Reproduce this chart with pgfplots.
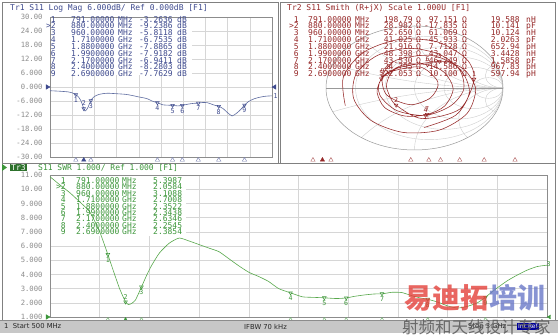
\documentclass[border=0pt]{standalone}
\usepackage{pgfplots}
\pgfplotsset{compat=1.18}
\usepackage{pgfplotstable}
\usepackage{fontspec}
\setmainfont{DejaVu Sans}
\setmonofont{DejaVu Sans Mono}
\newfontfamily\cjk{Noto Sans CJK SC}

\definecolor{cA}{HTML}{3E4A8E}
\definecolor{cAl}{HTML}{5E6CA0}
\definecolor{cB}{HTML}{962828}
\definecolor{cC}{HTML}{3C963A}
\definecolor{cCl}{HTML}{58A84C}
\definecolor{gridc}{HTML}{D6D6D6}
\definecolor{tickc}{HTML}{8C8C8C}
\definecolor{smg}{HTML}{CFCFCF}
\definecolor{wmr}{HTML}{E4403A}
\definecolor{wmb}{HTML}{6A78C8}

\pgfplotstableread{
f swr db mag ph
500 10.88 -1.60 0.832 200.0
550 10.30 -1.69 0.823 167.7
600 9.75 -1.79 0.814 135.4
650 9.10 -1.92 0.802 103.1
700 8.40 -2.08 0.787 70.8
750 7.00 -2.50 0.750 38.5
791 5.40 -3.26 0.687 11.8
820 4.20 -4.22 0.615 -33.4
850 3.00 -6.02 0.500 -80.2
880 2.06 -9.24 0.346 -126.9
895 1.88 -10.29 0.306 -160.0
910 1.95 -9.84 0.322 -193.0
930 2.20 -8.52 0.375 -237.0
960 3.11 -5.81 0.513 -303.2
985 3.90 -4.55 0.592 -319.6
1010 4.60 -3.84 0.643 -336.0
1050 5.50 -3.20 0.692 -362.2
1100 6.20 -2.83 0.722 -394.9
1150 6.56 -2.67 0.735 -427.7
1200 6.35 -2.76 0.728 -460.4
1250 6.10 -2.88 0.718 -493.2
1300 5.85 -3.00 0.708 -525.9
1350 5.60 -3.14 0.697 -558.7
1400 5.10 -3.45 0.672 -591.4
1450 4.60 -3.84 0.643 -624.2
1500 4.15 -4.26 0.612 -656.9
1550 3.85 -4.61 0.588 -689.7
1600 3.50 -5.10 0.556 -722.4
1650 3.00 -6.02 0.500 -755.1
1710 2.70 -6.75 0.459 -794.3
1770 2.42 -7.64 0.415 -839.2
1830 2.38 -7.79 0.408 -884.0
1880 2.35 -7.89 0.403 -921.4
1940 2.30 -8.09 0.394 -970.5
1990 2.34 -7.92 0.402 -1011.5
2030 2.45 -7.54 0.420 -1042.6
2080 2.55 -7.19 0.437 -1081.5
2130 2.62 -6.97 0.448 -1120.5
2170 2.63 -6.94 0.450 -1151.6
2220 2.74 -6.65 0.465 -1184.1
2270 2.72 -6.71 0.462 -1216.6
2320 2.50 -7.35 0.429 -1249.1
2360 2.35 -7.89 0.403 -1275.1
2400 2.25 -8.28 0.386 -1301.1
2450 2.05 -9.27 0.344 -1360.9
2500 1.78 -11.03 0.281 -1420.7
2550 1.63 -12.40 0.240 -1480.5
2600 1.75 -11.28 0.273 -1540.3
2650 2.00 -9.55 0.333 -1600.1
2690 2.39 -7.76 0.409 -1647.9
2740 2.95 -6.12 0.494 -1685.4
2800 3.55 -5.04 0.560 -1730.4
2850 3.95 -4.50 0.596 -1767.9
2900 4.30 -4.11 0.623 -1805.4
2950 4.55 -3.88 0.640 -1842.9
3000 4.65 -3.80 0.646 -1880.4
}\trace

\tikzset{
 tt/.style={inner sep=0pt, font=\ttfamily\fontsize{8}{8}\selectfont, text height=5.6pt, text depth=0pt},
 tA/.style={tt, text=cA},
 tB/.style={tt, text=cB},
 tC/.style={tt, text=cC},
 mlab/.style={font=\ttfamily\fontsize{6.6}{6.6}\selectfont, inner sep=0.5pt},
}

\pgfplotsset{
  vna/.style={scale only axis, anchor=south west, xmin=500, xmax=3000,
    xtick={500,750,...,3000}, xticklabels={},
    grid=major, grid style={gridc, line width=0.4pt},
    axis line style={draw=black!45, line width=0.5pt},
    major tick length=0pt, tick style={draw=none},
    yticklabel style={font=\ttfamily\fontsize{7.2}{7.2}\selectfont, text=tickc, xshift=-4pt},
    clip=false},
}

\newcommand\TA[5]{%
 \node[tA,anchor=east] at (56,#1) {#2};
 \node[tA,anchor=west] at (71,#1) {#3};
 \node[tA,anchor=west] at (118,#1) {#4};
 \node[tA,anchor=east] at (173,#1) {#5};
 \node[tA,anchor=west] at (177,#1) {dB};}
\newcommand\TB[8]{%
 \node[tB,anchor=east] at (299,#1) {#2};
 \node[tB,anchor=west] at (308,#1) {#3};
 \node[tB,anchor=west] at (355,#1) {#4};
 \node[tB,anchor=east] at (413,#1) {#5};
 \node[tB,anchor=west] at (416,#1) {Ω};
 \node[tB,anchor=east] at (458,#1) {#6};
 \node[tB,anchor=west] at (462,#1) {Ω};
 \node[tB,anchor=east] at (520,#1) {#7};
 \node[tB,anchor=west] at (526,#1) {#8};}
\newcommand\TC[5]{%
 \node[tC,anchor=east] at (66,#1) {#2};
 \node[tC,anchor=west] at (76,#1) {#3};
 \node[tC,anchor=west] at (122,#1) {#4};
 \node[tC,anchor=west] at (153,#1) {#5};}

\begin{document}
\begin{tikzpicture}
\path[use as bounding box] (0pt,0pt) rectangle (558pt,336pt);
\fill[white] (0pt,0pt) rectangle (558pt,336pt);

% ---------- panel frames ----------
\begin{scope}[x=1pt,y=-1pt,yshift=336pt]
\draw[black!50, line width=0.5pt] (2,2) rectangle (278,163);
\draw[black!50, line width=0.5pt] (280,2) rectangle (555,163);
\draw[black!50, line width=0.5pt] (2,163) rectangle (555,320);
\end{scope}

% ---------- Trace 1: Log Mag ----------
\begin{axis}[vna, at={(50pt,179pt)}, width=222pt, height=140pt,
  ymin=-30, ymax=30, ytick={-30,-24,...,30},
  yticklabels={-30.00,-24.00,-18.00,-12.00,-6.000,0.000,6.000,12.00,18.00,24.00,30.00}]
\fill[white] (rel axis cs:0.004,0.585) rectangle (rel axis cs:0.64,0.996);
\addplot[cAl, line width=0.6pt, smooth, tension=0.35] table[x=f,y=db]{\trace};
\addplot[only marks, mark=triangle, mark size=2.1pt, mark options={cA, rotate=180, line width=0.5pt},
  nodes near coords, point meta=explicit symbolic,
  every node near coord/.style={mlab, text=cA, anchor=north, yshift=-2.2pt}]
  coordinates {(791,-3.2636)[1] (960,-5.8118)[3] (1710,-6.7535)[4] (1880,-7.8865)[5]
   (1990,-7.9182)[6] (2170,-6.9411)[7] (2400,-8.2803)[8] (2690,-7.7629)[9]};
\addplot[only marks, mark=triangle, mark size=2.1pt, mark options={cA, rotate=180, line width=0.5pt},
  nodes near coords, point meta=explicit symbolic,
  every node near coord/.style={mlab, text=cA, anchor=south, yshift=2.2pt}]
  coordinates {(880,-9.2386)[2]};
\addplot[only marks, mark=triangle, mark size=2.5pt, mark options={cA!70, yshift=-3pt, line width=0.45pt}]
  coordinates {(791,-30) (960,-30) (1710,-30) (1880,-30) (1990,-30) (2170,-30) (2400,-30) (2690,-30)};
\addplot[only marks, mark=triangle*, mark size=2.5pt, mark options={draw=cA, fill=cA, yshift=-3pt}]
  coordinates {(880,-30)};
\addplot[only marks, mark=triangle*, mark size=2.6pt, mark options={draw=cA, fill=cA, xshift=-2.6pt, rotate=-90}]
  coordinates {(500,0)};
\addplot[only marks, mark=triangle*, mark size=2.6pt, mark options={draw=cA, fill=cA, xshift=2.6pt, rotate=90}]
  coordinates {(3000,0)};
\end{axis}

% ---------- Trace 2: Smith chart ----------
\begin{axis}[at={(326pt,186pt)}, anchor=south west, scale only axis, width=177pt, height=124pt,
  xmin=-1, xmax=1, ymin=-1, ymax=1, hide axis, clip=false]
\begin{scope}
\clip (axis cs:0,0) ellipse [x radius=1, y radius=1];
\draw[smg, line width=0.4pt] (axis cs:0.1667,0) ellipse [x radius=0.8333, y radius=0.8333];
\draw[smg, line width=0.4pt] (axis cs:0.3333,0) ellipse [x radius=0.6667, y radius=0.6667];
\draw[smg, line width=0.4pt] (axis cs:0.5,0) ellipse [x radius=0.5, y radius=0.5];
\draw[smg, line width=0.4pt] (axis cs:0.6667,0) ellipse [x radius=0.3333, y radius=0.3333];
\draw[smg, line width=0.4pt] (axis cs:0.8333,0) ellipse [x radius=0.1667, y radius=0.1667];
\draw[smg, line width=0.4pt] (axis cs:1,5) ellipse [x radius=5, y radius=5];
\draw[smg, line width=0.4pt] (axis cs:1,-5) ellipse [x radius=5, y radius=5];
\draw[smg, line width=0.4pt] (axis cs:1,2) ellipse [x radius=2, y radius=2];
\draw[smg, line width=0.4pt] (axis cs:1,-2) ellipse [x radius=2, y radius=2];
\draw[smg, line width=0.4pt] (axis cs:1,1) ellipse [x radius=1, y radius=1];
\draw[smg, line width=0.4pt] (axis cs:1,-1) ellipse [x radius=1, y radius=1];
\draw[smg, line width=0.4pt] (axis cs:1,0.5) ellipse [x radius=0.5, y radius=0.5];
\draw[smg, line width=0.4pt] (axis cs:1,-0.5) ellipse [x radius=0.5, y radius=0.5];
\draw[smg, line width=0.4pt] (axis cs:1,0.2) ellipse [x radius=0.2, y radius=0.2];
\draw[smg, line width=0.4pt] (axis cs:1,-0.2) ellipse [x radius=0.2, y radius=0.2];
\end{scope}
\draw[black!40, line width=0.5pt] (axis cs:0,0) ellipse [x radius=1, y radius=1];
\draw[black!40, line width=0.5pt] (axis cs:-1,0) -- (axis cs:1,0);
\addplot[cB, line width=0.55pt, smooth, tension=0.5, data cs=polar] table[x=ph,y=mag]{\trace};
\addplot[only marks, data cs=polar, mark=triangle, mark size=2.1pt, mark options={cB, rotate=180, line width=0.5pt},
  nodes near coords, point meta=explicit symbolic,
  every node near coord/.style={mlab, text=cB, anchor=south, yshift=2.2pt}]
  coordinates {(11.8,0.687)[1] (-126.9,0.346)[2] (56.8,0.513)[3] (-74.3,0.459)[4] (158.6,0.403)[5]
   (68.5,0.402)[6] (-71.6,0.450)[7] (138.9,0.386)[8] (152.1,0.409)[9]};
\end{axis}

% Smith marker strip
\begin{axis}[at={(282pt,176pt)}, anchor=south west, scale only axis, width=266pt, height=2pt,
  xmin=500, xmax=3000, ymin=0, ymax=1, hide axis, clip=false]
\addplot[only marks, mark=triangle, mark size=2.5pt, mark options={cB!75, line width=0.45pt}]
  coordinates {(791,0) (960,0) (1710,0) (1880,0) (1990,0) (2170,0) (2400,0) (2690,0)};
\addplot[only marks, mark=triangle*, mark size=2.5pt, mark options={draw=cB, fill=cB}]
  coordinates {(880,0)};
\end{axis}

% ---------- Trace 3: SWR ----------
\begin{axis}[vna, at={(50pt,19pt)}, width=497pt, height=142pt,
  ymin=1, ymax=11, ytick={1,2,...,11},
  yticklabels={1.000,2.000,3.000,4.000,5.000,6.000,7.000,8.000,9.000,10.00,11.00}]
\fill[white] (rel axis cs:0.003,0.57) rectangle (rel axis cs:0.274,0.995);
\addplot[cCl, line width=0.6pt, smooth, tension=0.35] table[x=f,y=swr]{\trace};
\addplot[only marks, mark=triangle, mark size=2.1pt, mark options={cC, rotate=180, line width=0.5pt},
  nodes near coords, point meta=explicit symbolic,
  every node near coord/.style={mlab, text=cC, anchor=north, yshift=-2.2pt}]
  coordinates {(791,5.3987)[1] (960,3.1088)[3] (1710,2.7008)[4] (1880,2.3522)[5]
   (1990,2.3438)[6] (2170,2.6346)[7] (2400,2.2545)[8] (2690,2.3854)[9]};
\addplot[only marks, mark=triangle, mark size=2.1pt, mark options={cC, rotate=180, line width=0.5pt},
  nodes near coords, point meta=explicit symbolic,
  every node near coord/.style={mlab, text=cC, anchor=south, yshift=2.2pt}]
  coordinates {(880,2.0584)[2]};
\addplot[only marks, mark=triangle, mark size=2.5pt, mark options={cC!75, yshift=-3pt, line width=0.45pt}]
  coordinates {(791,1) (960,1) (1710,1) (1880,1) (1990,1) (2170,1) (2400,1) (2690,1)};
\addplot[only marks, mark=triangle*, mark size=2.5pt, mark options={draw=cC, fill=cC, yshift=-3pt}]
  coordinates {(880,1)};
\addplot[only marks, mark=triangle*, mark size=2.6pt, mark options={draw=cC, fill=cC, xshift=-2.6pt, rotate=-90}]
  coordinates {(500,1)};
\addplot[only marks, mark=triangle*, mark size=2.2pt, mark options={draw=cC, fill=cC, xshift=2.4pt, rotate=90}]
  coordinates {(3000,1)};
\end{axis}

% ---------- texts ----------
\begin{scope}[x=1pt,y=-1pt,yshift=336pt]
\node[tt, text=cA, anchor=west] at (10,8) {Tr1 S11 Log Mag 6.000dB/ Ref 0.000dB [F1]};
\node[tt, text=cB, anchor=west] at (287,8) {Tr2 S11 Smith (R+jX) Scale 1.000U [F1]};
\fill[cC] (2,164) -- (7,167.5) -- (2,171) -- cycle;
\node[tt, fill=cC!75!black, text=white, inner sep=1pt, anchor=west] at (10,167.5) {Tr3};
\node[tt, text=cC, anchor=west] at (38,167.5) {S11 SWR 1.000/ Ref 1.000 [F1]};
\node[mlab, text=cA, anchor=west] at (273,96) {1};
\node[mlab, text=cC, anchor=west] at (546,264) {3};
\TA{19.3}{1}{791.00000}{MHz}{-3.2636}
\TA{26.1}{>2}{880.00000}{MHz}{-9.2386}
\TA{33.0}{3}{960.00000}{MHz}{-5.8118}
\TA{39.8}{4}{1.7100000}{GHz}{-6.7535}
\TA{46.7}{5}{1.8800000}{GHz}{-7.8865}
\TA{53.5}{6}{1.9900000}{GHz}{-7.9182}
\TA{60.3}{7}{2.1700000}{GHz}{-6.9411}
\TA{67.2}{8}{2.4000000}{GHz}{-8.2803}
\TA{74.0}{9}{2.6900000}{GHz}{-7.7629}
\TB{19.3}{1}{791.00000}{MHz}{198.79}{97.151}{19.588}{nH}
\TB{26.1}{>2}{880.00000}{MHz}{28.982}{-17.835}{10.141}{pF}
\TB{33.0}{3}{960.00000}{MHz}{52.650}{61.069}{10.124}{nH}
\TB{39.8}{4}{1.7100000}{GHz}{41.025}{-45.933}{2.0263}{pF}
\TB{46.7}{5}{1.8800000}{GHz}{21.916}{7.7128}{652.94}{pH}
\TB{53.5}{6}{1.9900000}{GHz}{48.398}{43.047}{3.4428}{nH}
\TB{60.3}{7}{2.1700000}{GHz}{43.530}{-46.249}{1.5858}{pF}
\TB{67.2}{8}{2.4000000}{GHz}{24.795}{14.586}{967.83}{pH}
\TB{74.0}{9}{2.6900000}{GHz}{22.053}{10.100}{597.94}{pH}
\TC{180.7}{1}{791.00000}{MHz}{5.3987}
\TC{187.1}{>2}{880.00000}{MHz}{2.0584}
\TC{193.5}{3}{960.00000}{MHz}{3.1088}
\TC{199.9}{4}{1.7100000}{GHz}{2.7008}
\TC{206.3}{5}{1.8800000}{GHz}{2.3522}
\TC{212.7}{6}{1.9900000}{GHz}{2.3438}
\TC{219.1}{7}{2.1700000}{GHz}{2.6346}
\TC{225.5}{8}{2.4000000}{GHz}{2.2545}
\TC{231.9}{9}{2.6900000}{GHz}{2.3854}
% status bar
\fill[black!22] (0,320) rectangle (558,333);
\draw[black!45, line width=0.4pt] (0,320) -- (558,320);
\node[inner sep=0pt, anchor=west, font=\fontsize{6.8}{7}\selectfont, text=black!85] at (4,326.5) {1\ \ Start 500 MHz};
\node[inner sep=0pt, anchor=west, font=\fontsize{6.8}{7}\selectfont, text=black!85] at (244,326.5) {IFBW 70 kHz};
\node[inner sep=0pt, anchor=west, font=\fontsize{6.8}{7}\selectfont, text=black!85] at (468,326.5) {Stop 3 GHz};
\node[inner sep=1pt, anchor=west, fill=blue!60!black, font=\fontsize{6}{6}\selectfont, text=white] at (517,326.5) {Int Ref};
% watermark
\node[inner sep=0pt, anchor=west, font=\cjk\bfseries\fontsize{28}{28}\selectfont, text=wmr, opacity=0.8] at (404,298) {易迪拓};
\node[inner sep=0pt, anchor=west, font=\cjk\bfseries\fontsize{28}{28}\selectfont, text=wmb, opacity=0.8] at (489,298) {培训};
\node[inner sep=0pt, anchor=west, font=\cjk\fontsize{16.5}{17}\selectfont, text=black!65, opacity=0.85] at (402,327) {射频和天线设计专家};
\end{scope}
\end{tikzpicture}
\end{document}
